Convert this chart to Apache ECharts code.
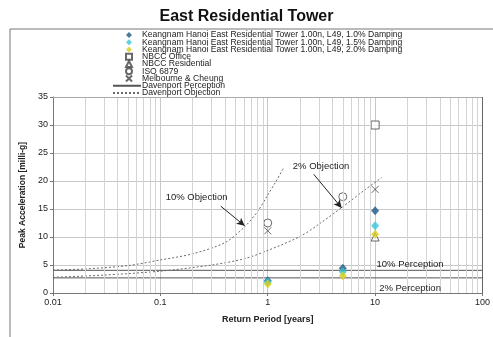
<!DOCTYPE html>
<html>
<head>
<meta charset="utf-8">
<script src="https://cdn.jsdelivr.net/npm/echarts@6/dist/echarts.min.js"></script>
<style>
  html, body { margin: 0; padding: 0; background: #fff; }
  #main { width: 493px; height: 337px; }
</style>
</head>
<body>
<div id="main"></div>
<script>
// return periods and accelerations
var periods = [1, 5, 10];
var damp10 = [2.2, 4.4, 14.7];
var damp15 = [1.95, 3.8, 12.0];
var damp20 = [1.6, 3.1, 10.5];
var nbccOffice = [[10, 30.0]];
var nbccResidential = [[10, 10.0]];
var iso6879 = [[1, 12.5], [5, 17.2]];
var melbourne = [[1, 11.1], [10, 18.5]];

// Davenport curves
var perceptionX = [0.01, 100];
var perception10 = 4.05;
var perception2 = 2.7;
var obj10X = [0.01, 0.02, 0.05, 0.1, 0.2, 0.4, 0.6, 0.8, 1.0, 1.2, 1.4];
var obj10Y = [4.1, 4.3, 4.9, 5.9, 7.0, 9.0, 11.7, 14.5, 17.5, 20.0, 22.3];
var obj2X = [0.01, 0.03, 0.1, 0.3, 0.6, 1, 2, 3, 5, 8, 11.5];
var obj2Y = [2.8, 3.2, 3.9, 5.0, 6.1, 7.6, 10.1, 12.3, 15.4, 18.4, 20.6];

var markerNames = [
    'Keangnam Hanoi East Residential Tower 1.00n, L49, 1.0% Damping',
    'Keangnam Hanoi East Residential Tower 1.00n, L49, 1.5% Damping',
    'Keangnam Hanoi East Residential Tower 1.00n, L49, 2.0% Damping',
    'NBCC Office', 'NBCC Residential', 'ISO 6879', 'Melbourne & Cheung'
];
var lineNames = ['Davenport Perception', 'Davenport Objection'];

// minor log grid lines
var minorTicks = [];
[0.01, 0.1, 1, 10].forEach(function (d) {
    for (var k = 2; k <= 9; k++) minorTicks.push(+(d * k).toPrecision(3));
});

// annotations: label text, label anchor, arrow start, arrow end
var notes = [
    { text: '10% Objection', at: [0.112, 17.0], from: [0.365, 15.5], to: [0.61, 12.0] },
    { text: '2% Objection', at: [1.71, 22.7], from: [2.68, 21.2], to: [4.88, 15.2] },
    { text: '10% Perception', at: [10.3, 5.2] },
    { text: '2% Perception', at: [10.9, 0.9] }
];

function zip(xs, ys) {
    return xs.map(function (x, i) { return [x, ys[i]]; });
}

var myChart = echarts.init(document.getElementById('main'));

var diamond = function (name, color, ys) {
    return {
        name: name,
        type: 'scatter',
        symbol: 'diamond',
        symbolSize: [8, 9],
        itemStyle: { color: color },
        data: zip(periods, ys),
        z: 5
    };
};
var hollow = function (name, symbol, data, size) {
    return {
        name: name,
        type: 'scatter',
        symbol: symbol,
        symbolSize: size,
        itemStyle: { color: '#fff', borderColor: '#444', borderWidth: 1 },
        data: data,
        z: 4
    };
};
var curve = function (name, data, dotted) {
    var c = dotted ? '#6a6a6a' : '#555';
    return {
        name: name,
        type: 'line',
        symbol: 'none',
        smooth: dotted ? 0.3 : false,
        itemStyle: { color: c },
        lineStyle: { color: c, width: 1, type: dotted ? [2, 2] : 'solid' },
        data: data,
        z: 3
    };
};

var rowStep = 7.25;
var legendTop = 30.5;
var legendText = { fontFamily: 'Liberation Sans', fontSize: 8.6, lineHeight: 9, color: '#222' };

var option = {
    animation: false,
    title: {
        text: 'East Residential Tower',
        left: 'center',
        top: 4,
        textStyle: { fontFamily: 'Liberation Sans', fontSize: 16, fontWeight: 'bold', color: '#111' }
    },
    graphic: [
        { type: 'line', shape: { x1: 10, y1: 29, x2: 493, y2: 29 }, style: { stroke: '#777', lineWidth: 1 } },
        { type: 'line', shape: { x1: 10, y1: 29, x2: 10, y2: 337 }, style: { stroke: '#777', lineWidth: 1 } }
    ],
    legend: [{
        orient: 'vertical',
        left: 125,
        top: legendTop,
        padding: 0,
        itemGap: rowStep - 9,
        itemWidth: 6,
        itemHeight: 6,
        textStyle: Object.assign({ padding: [0, 0, 0, 5] }, legendText),
        data: markerNames
    }, {
        orient: 'vertical',
        left: 112,
        top: legendTop + 7 * rowStep,
        padding: 0,
        itemGap: rowStep - 9,
        itemWidth: 28,
        itemHeight: 6,
        textStyle: Object.assign({ padding: [0, 0, 0, -4] }, legendText),
        data: lineNames.map(function (n) { return { name: n, itemStyle: { opacity: 0 } }; })
    }],
    grid: { left: 53, right: 10, top: 97, bottom: 44 },
    xAxis: {
        type: 'log',
        logBase: 10,
        min: 0.01,
        max: 100,
        name: 'Return Period [years]',
        nameLocation: 'middle',
        nameGap: 22,
        nameTextStyle: { fontFamily: 'Liberation Sans', fontSize: 9, fontWeight: 'bold', color: '#222' },
        axisLine: { lineStyle: { color: '#777' } },
        axisTick: { show: true, length: 3, lineStyle: { color: '#777' } },
        axisLabel: {
            fontFamily: 'Liberation Sans', fontSize: 9, color: '#222', margin: 5,
            formatter: function (v) { return String(+v.toPrecision(3)); }
        },
        splitLine: { show: true, lineStyle: { color: '#c8c8c8' } }
    },
    yAxis: {
        type: 'value',
        min: 0,
        max: 35,
        interval: 5,
        name: 'Peak Acceleration [milli-g]',
        nameLocation: 'middle',
        nameGap: 16,
        nameTextStyle: { fontFamily: 'Liberation Sans', fontSize: 8.5, fontWeight: 'bold', color: '#222' },
        axisLine: { show: true, lineStyle: { color: '#777' } },
        axisTick: { show: true, length: 3, lineStyle: { color: '#777' } },
        axisLabel: { fontFamily: 'Liberation Sans', fontSize: 9, color: '#222', margin: 5 },
        splitLine: { show: true, lineStyle: { color: '#c8c8c8' } }
    },
    series: [
        {
            name: 'grid-minor',
            type: 'line',
            data: [],
            silent: true,
            markLine: {
                silent: true,
                symbol: 'none',
                label: { show: false },
                lineStyle: { color: '#d4d4d4', width: 1, type: 'solid' },
                data: minorTicks.map(function (v) { return { xAxis: v }; })
            },
            z: 1
        },
        // top and right frame of plot area
        {
            name: 'frame',
            type: 'line',
            data: [],
            silent: true,
            markLine: {
                silent: true,
                symbol: 'none',
                label: { show: false },
                data: [
                    { yAxis: 35, lineStyle: { color: '#aaa', width: 1, type: 'solid' } },
                    { xAxis: 100, lineStyle: { color: '#666', width: 1, type: 'solid' } }
                ]
            },
            z: 2
        },
        curve('Davenport Perception', zip(perceptionX, [perception10, perception10]), false),
        curve('Davenport Perception', zip(perceptionX, [perception2, perception2]), false),
        curve('Davenport Objection', zip(obj10X, obj10Y), true),
        curve('Davenport Objection', zip(obj2X, obj2Y), true),
        hollow('NBCC Office', 'rect', nbccOffice, 8),
        hollow('NBCC Residential', 'triangle', nbccResidential, 8),
        hollow('ISO 6879', 'circle', iso6879, 8),
        hollow('Melbourne & Cheung', 'path://M0,0L10,10M10,0L0,10', melbourne, 7),
        diamond(markerNames[0], '#1d5a85', damp10),
        diamond(markerNames[1], '#38c6d8', damp15),
        diamond(markerNames[2], '#d9cf1a', damp20),
        {
            name: 'notes',
            type: 'line',
            data: [],
            silent: true,
            markLine: {
                silent: true,
                symbol: ['none', 'arrow'],
                symbolSize: [6, 8],
                label: { show: false },
                lineStyle: { color: '#222', width: 1, type: 'solid' },
                data: notes.filter(function (n) { return n.from; }).map(function (n) {
                    return [{ coord: n.from }, { coord: n.to }];
                })
            },
            markPoint: {
                silent: true,
                symbol: 'circle',
                symbolSize: 0,
                label: {
                    show: true,
                    position: 'right',
                    distance: 0,
                    fontFamily: 'Liberation Sans',
                    fontSize: 9.5,
                    color: '#222',
                    formatter: '{b}'
                },
                data: notes.map(function (n) { return { name: n.text, coord: n.at }; })
            },
            z: 6
        }
    ]
};

myChart.setOption(option);
</script>
</body>
</html>
